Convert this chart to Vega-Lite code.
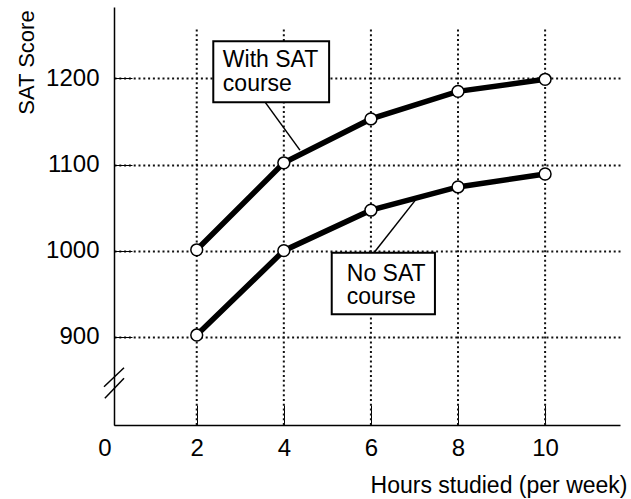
{
  "$schema": "https://vega.github.io/schema/vega-lite/v6.json",
  "width": 506,
  "height": 418,
  "autosize": "none",
  "padding": {"left": 114, "top": 7, "right": 11, "bottom": 74},
  "background": "white",
  "config": {"view": {"stroke": null}, "font": "Liberation Sans"},
  "datasets": {
    "scores": [
      {"series": "With SAT course", "hours": 2, "score": 1001},
      {"series": "With SAT course", "hours": 4, "score": 1102},
      {"series": "With SAT course", "hours": 6, "score": 1153},
      {"series": "With SAT course", "hours": 8, "score": 1185},
      {"series": "With SAT course", "hours": 10, "score": 1199},
      {"series": "No SAT course", "hours": 2, "score": 902},
      {"series": "No SAT course", "hours": 4, "score": 1000},
      {"series": "No SAT course", "hours": 6, "score": 1047},
      {"series": "No SAT course", "hours": 8, "score": 1074},
      {"series": "No SAT course", "hours": 10, "score": 1089}
    ],
    "labels": [
      {"label": "With SAT\ncourse", "bx1": 2.38, "bx2": 5.04, "by1": 1172.5, "by2": 1243.3, "tx": 2.6, "ty": 1213, "lx1": 3.57, "ly1": 1172.5, "lx2": 4.37, "ly2": 1116.8},
      {"label": "No SAT\ncourse", "bx1": 5.1, "bx2": 7.47, "by1": 926, "by2": 997.5, "tx": 5.446, "ty": 965, "lx1": 6.07, "ly1": 997.5, "lx2": 7.08, "ly2": 1062.5}
    ],
    "xgrid": [{"h": 2}, {"h": 4}, {"h": 6}, {"h": 8}, {"h": 10}],
    "breakmarks": [
      {"x1": -0.13, "y1": 842, "x2": 0.33, "y2": 864},
      {"x1": -0.11, "y1": 828.5, "x2": 0.33, "y2": 851.7}
    ]
  },
  "layer": [
    {
      "data": {"name": "xgrid"},
      "mark": {"type": "rule", "color": "#111", "strokeWidth": 2, "strokeDash": [2, 2.8]},
      "encoding": {
        "x": {
          "field": "h", "type": "quantitative",
          "scale": {"domain": [0.1, 11.72], "nice": false, "zero": false},
          "axis": {
            "values": [0.1, 2, 4, 6, 8, 10],
            "labelExpr": "datum.value < 1 ? '0' : datum.label",
            "labelAlign": {"condition": {"test": "datum.value < 1", "value": "right"}, "value": "center"},
            "labelOffset": {"condition": {"test": "datum.value < 1", "value": -3}, "value": 0},
            "grid": false,
            "domainColor": "black", "domainWidth": 1.5,
            "tickColor": "black", "tickWidth": 1, "tickSize": -20,
            "labelFontSize": 24, "labelColor": "black", "labelPadding": 31,
            "title": "Hours studied (per week)",
            "titleFontSize": 23, "titleFontWeight": "normal", "titleColor": "black",
            "titleAnchor": "end", "titleAlign": "right", "titleBaseline": "alphabetic",
            "titleX": 513, "titleY": 67
          }
        },
        "y": {
          "datum": 797.5, "type": "quantitative",
          "scale": {"domain": [797.5, 1283], "nice": false, "zero": false},
          "axis": {
            "values": [900, 1000, 1100, 1200],
            "format": "d",
            "grid": true, "gridColor": "#111", "gridWidth": 2, "gridDash": [2, 2.8],
            "domainColor": "black", "domainWidth": 1.5,
            "tickColor": "black", "tickWidth": 1, "tickSize": -18,
            "labelFontSize": 24, "labelColor": "black", "labelPadding": 33,
            "title": "SAT Score",
            "titleFontSize": 22, "titleFontWeight": "normal", "titleColor": "black",
            "titleAngle": -90, "titleAlign": "center", "titleBaseline": "alphabetic",
            "titleX": -81, "titleY": 55
          }
        },
        "y2": {"datum": 1257}
      }
    },
    {
      "data": {"name": "scores"},
      "mark": {"type": "line", "color": "black", "strokeWidth": 5.5},
      "encoding": {
        "x": {"field": "hours", "type": "quantitative"},
        "y": {"field": "score", "type": "quantitative"},
        "detail": {"field": "series"}
      }
    },
    {
      "data": {"name": "scores"},
      "mark": {"type": "point", "filled": false, "fill": "white", "fillOpacity": 1, "stroke": "black", "strokeWidth": 1.5, "size": 140, "opacity": 1},
      "encoding": {
        "x": {"field": "hours", "type": "quantitative"},
        "y": {"field": "score", "type": "quantitative"}
      }
    },
    {
      "data": {"name": "labels"},
      "mark": {"type": "rule", "color": "black", "strokeWidth": 1.5},
      "encoding": {
        "x": {"field": "lx1", "type": "quantitative"},
        "y": {"field": "ly1", "type": "quantitative"},
        "x2": {"field": "lx2"},
        "y2": {"field": "ly2"}
      }
    },
    {
      "data": {"name": "labels"},
      "mark": {"type": "rect", "fill": "white", "stroke": "black", "strokeWidth": 2},
      "encoding": {
        "x": {"field": "bx1", "type": "quantitative"},
        "x2": {"field": "bx2"},
        "y": {"field": "by1", "type": "quantitative"},
        "y2": {"field": "by2"}
      }
    },
    {
      "data": {"name": "labels"},
      "mark": {"type": "text", "align": "left", "baseline": "alphabetic", "fontSize": 23, "lineHeight": 23.5, "lineBreak": "\n", "color": "black"},
      "encoding": {
        "x": {"field": "tx", "type": "quantitative"},
        "y": {"field": "ty", "type": "quantitative"},
        "text": {"field": "label"}
      }
    },
    {
      "data": {"name": "breakmarks"},
      "mark": {"type": "rule", "color": "black", "strokeWidth": 1.5},
      "encoding": {
        "x": {"field": "x1", "type": "quantitative"},
        "y": {"field": "y1", "type": "quantitative"},
        "x2": {"field": "x2"},
        "y2": {"field": "y2"}
      }
    }
  ]
}
